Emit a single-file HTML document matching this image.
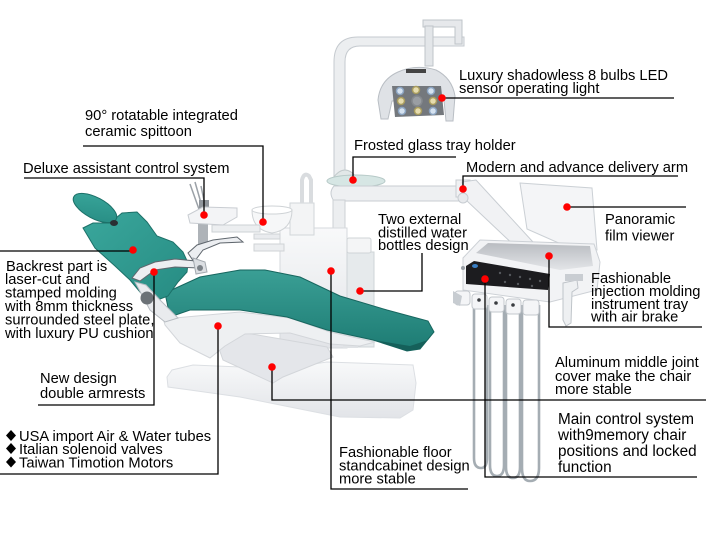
<!DOCTYPE html>
<html><head><meta charset="utf-8"><style>
html,body{margin:0;padding:0;background:#fff;}
svg{display:block;}
text{font-family:"Liberation Sans",Arial,sans-serif;font-size:14.7px;fill:#000;}
</style></head><body>
<svg width="706" height="550" viewBox="0 0 706 550" xmlns="http://www.w3.org/2000/svg">
<defs>
<linearGradient id="teal" x1="0" y1="0" x2="0" y2="1"><stop offset="0" stop-color="#3a9f95"/><stop offset="1" stop-color="#1d7b73"/></linearGradient>
<linearGradient id="teal2" x1="0" y1="0" x2="1" y2="1"><stop offset="0" stop-color="#3aa79c"/><stop offset="1" stop-color="#268b82"/></linearGradient>
<linearGradient id="wht" x1="0" y1="0" x2="0" y2="1"><stop offset="0" stop-color="#f8f9fa"/><stop offset="1" stop-color="#e2e4e8"/></linearGradient>
<linearGradient id="tray" x1="0" y1="0" x2="0" y2="1"><stop offset="0" stop-color="#b9bcc1"/><stop offset="1" stop-color="#e3e5e8"/></linearGradient>
</defs>

<!-- light pole -->
<path d="M334,178 V62 Q334,37 358,37 H464 V46 H360 Q345,46 345,62 V178 Z" fill="#eceef0" stroke="#c5cacf"/>
<path d="M423,20 H462 V44 H455 V27 H423 Z" fill="#e6e8eb" stroke="#bfc4c9"/>
<rect x="425" y="26" width="8" height="40" fill="#e3e6e9" stroke="#bfc4c9"/>
<!-- lamp -->
<path d="M378,100 Q380,80 398,72 Q416,64 436,70 Q452,78 455,96 L453,121 L446,121 L444,100 L392,101 L388,119 L381,119 Z" fill="#dfe2e6" stroke="#b9bec4"/>
<rect x="406" y="69" width="20" height="4" fill="#444"/>
<path d="M392,86 L441,86 L444,115 L395,117 Z" fill="#74787d"/>
<g stroke-width="1.5">
<circle cx="400" cy="91" r="3.5" fill="#d5e2f0" stroke="#8aa3c0"/>
<circle cx="416" cy="90" r="3.5" fill="#e6dcae" stroke="#a89c5e"/>
<circle cx="431" cy="91" r="3.5" fill="#d5e2f0" stroke="#8aa3c0"/>
<circle cx="401" cy="101" r="3.5" fill="#e6dcae" stroke="#a89c5e"/>
<circle cx="417" cy="101" r="5" fill="#9a9ea3" stroke="#85898e"/>
<circle cx="433" cy="101" r="3.5" fill="#e6dcae" stroke="#a89c5e"/>
<circle cx="402" cy="111" r="3.5" fill="#d5e2f0" stroke="#8aa3c0"/>
<circle cx="418" cy="111" r="3.5" fill="#e6dcae" stroke="#a89c5e"/>
<circle cx="433" cy="111" r="3.5" fill="#d5e2f0" stroke="#8aa3c0"/>
</g>
<!-- glass tray -->
<path d="M333,178 Q339,170 345,170 Q351,170 357,178 Z" fill="#e2e8e8" stroke="#c3cbcc"/>
<ellipse cx="356" cy="181" rx="29" ry="6" fill="#d6e6e4" stroke="#b6c9c7"/>

<!-- delivery arm -->
<path d="M334,186 H470 V201 H334 Q328,193 334,186 Z" fill="#eef0f2" stroke="#c8cdd2"/>
<rect x="456" y="180" width="14" height="17" fill="#f0f1f3" stroke="#c8cdd2"/>
<path d="M462,182 L476,180 L533,242 L519,250 L466,200 Z" fill="#f1f2f4" stroke="#c8cdd2"/>
<circle cx="463" cy="198" r="5" fill="#e8eaed" stroke="#c8cdd2"/>

<!-- cabinet -->
<rect x="333" y="200" width="12" height="30" fill="#eceef0" stroke="#ccd0d4"/>
<rect x="280" y="228" width="67" height="120" fill="url(#wht)" stroke="#d6d9dd"/>
<rect x="347" y="252" width="27" height="95" fill="#e6eaec" stroke="#cfd4d7"/>
<rect x="347" y="238" width="24" height="15" rx="2" fill="#f4f5f6" stroke="#cfd4d7"/>
<rect x="343" y="330" width="15" height="18" fill="#dfe2e5"/>

<!-- spittoon & cup -->
<path d="M290,203 H314 V235 H290 Z" fill="#f3f4f5" stroke="#d2d6d9"/>
<path d="M302,203 V180 Q304,172 309,176 L311,180 V203" fill="none" stroke="#d9dcdf" stroke-width="4"/>
<path d="M252,210 H292 Q292,230 272,233 Q252,230 252,210 Z" fill="#f6f7f8" stroke="#cfd3d6"/>
<ellipse cx="272" cy="210" rx="20" ry="4" fill="#fff" stroke="#cfd3d6"/>
<rect x="254" y="234" width="26" height="5" fill="#e9ebee" stroke="#cfd3d6"/>
<rect x="254" y="244" width="30" height="7" fill="#eceef0" stroke="#cfd3d6"/>
<!-- assistant -->
<rect x="212" y="225" width="48" height="7" fill="#eceef0" stroke="#cdd1d5"/>
<rect x="198" y="222" width="10" height="22" fill="#aeb3b8"/>
<path d="M190,184 L200,212 M195,182 L203,210 M201,186 L206,210" stroke="#9ba1a7" stroke-width="1.5" fill="none"/>
<rect x="199" y="200" width="10" height="12" fill="#8f959b"/>
<path d="M188,215 L203,207 L237,208 L237,217 L223,225 L190,223 Z" fill="#f3f4f6" stroke="#c9cdd2"/>

<!-- base -->
<path d="M167,377 L172,370 L193,365 L240,367 L287,368 L327,362 L413,365 L416,383 L413,410 L400,418 L340,417 L290,407 L240,397 L190,390 L168,387 Z" fill="url(#wht)" stroke="#dcdfe3"/>
<path d="M217,343 L240,332 L327,347 L333,357 L283,377 L273,383 L223,360 Z" fill="#e4e6ea" stroke="#d3d6da"/>
<!-- shell -->
<path d="M158,300 L175,318 L240,312 L290,318 L330,332 L375,342 L360,346 L330,344 L290,333 L245,334 L225,346 L210,358 L180,343 L165,325 Z" fill="#eef0f2" stroke="#d3d6da"/>
<!-- seat -->
<path d="M165,293 L200,277 L240,270 L265,270 L300,277 L340,296 L387,310 L428,321 L434,332 L420,349 L407,351 L373,340 L327,330 L287,317 L240,310 L190,310 L170,317 Z" fill="url(#teal)" stroke="#17665f"/>
<path d="M373,340 L407,351 L420,349 L434,332 L428,340 L410,346 Z" fill="#15605a"/>
<!-- backrest -->
<path d="M83,228 L93,223 L110,223 L122,213 L137,212 L147,222 L157,236 L173,242 L183,252 L188,263 L187,272 L178,282 L168,296 L152,302 L140,292 L130,280 L115,266 L95,248 Z" fill="url(#teal2)" stroke="#1c7068"/>
<ellipse cx="95" cy="208" rx="24" ry="10.5" transform="rotate(28 95 208)" fill="url(#teal2)" stroke="#1c7068"/>
<ellipse cx="114" cy="223" rx="4" ry="3" fill="#2a2f33"/>
<!-- armrests -->
<path d="M132,278 L140,268 L155,262 L175,259 L196,261 L199,268 L175,267 L155,270 L140,281 Z" fill="#eceef1" stroke="#5f666d"/>
<path d="M188,253 L197,245 L213,240 L237,237 L243,242 L220,243 L203,250 L194,262 Z" fill="#eceef1" stroke="#5f666d"/>
<path d="M193,258 L205,262 L207,272 L196,274 Z" fill="#dcdfe3" stroke="#a4aab0"/>
<circle cx="200" cy="268" r="3" fill="#7b8187"/>
<path d="M135,282 L150,310 L165,322 L178,318 L160,300 L146,285 Z" fill="#e9ebee" stroke="#b7bcc2"/>
<circle cx="147" cy="298" r="6.5" fill="#6c7277"/>

<!-- hoses -->
<g fill="none" stroke="#a5adb3" stroke-width="2.6">
<path d="M474,305 V458 Q474,468 481,468 Q487,468 487,458 V305"/>
<path d="M490,305 V465 Q490,476 497,476 Q504,476 504,465 V305"/>
<path d="M506,305 V467 Q506,478 513,478 Q520,478 520,467 V305"/>
<path d="M522,305 V468 Q522,481 530,481 Q539,481 539,468 V305"/>
</g>
<!-- tray -->
<path d="M520,183 L592,188 L597,250 L570,248 L527,229 Z" fill="#f4f5f7" stroke="#cbd0d5"/>
<path d="M463,258 L480,240 L594,244 L600,262 L597,290 L550,302 L463,290 Z" fill="#f2f3f5" stroke="#cdd1d6"/>
<path d="M476,253 L488,243 L590,246 L593,266 L560,270 Z" fill="url(#tray)"/>
<path d="M466,266 L474,261 L550,274 L548,290 L466,284 Z" fill="#1c1c1f"/>
<ellipse cx="475" cy="266" rx="3" ry="2" fill="#3a7fc4"/>
<g fill="#55585c"><circle cx="500" cy="273" r="1.2"/><circle cx="510" cy="275" r="1.2"/><circle cx="520" cy="277" r="1.2"/><circle cx="530" cy="279" r="1.2"/><circle cx="540" cy="281" r="1.2"/><circle cx="505" cy="282" r="1.2"/><circle cx="518" cy="284" r="1.2"/><circle cx="532" cy="286" r="1.2"/></g>
<circle cx="463" cy="268" r="2" fill="#9aa0a6"/>
<g fill="#f4f5f7" stroke="#c3c8cd">
<rect x="455" y="291" width="15" height="14" rx="3"/>
<rect x="472" y="294" width="15" height="15" rx="3"/>
<rect x="489" y="297" width="15" height="15" rx="3"/>
<rect x="506" y="299" width="15" height="15" rx="3"/>
<rect x="523" y="300" width="16" height="15" rx="3"/>
</g>
<g fill="#3a3d41"><circle cx="479" cy="300" r="1.8"/><circle cx="496" cy="303" r="1.8"/><circle cx="513" cy="305" r="1.8"/></g>
<path d="M563,283 L577,280 L578,288 L572,292 L571,323 L566,326 L563,320 Z" fill="#eef0f2" stroke="#bfc4c9"/>
<rect x="565" y="274" width="18" height="7" fill="#c9cdd2"/>
<path d="M453,291 L462,296 L460,306 L453,303 Z" fill="#c7ccd1"/>

<!-- leader lines -->
<g fill="none" stroke="#000" stroke-width="1.3">
<path d="M83,146 H263 V222"/>
<path d="M24,178 H204 V215"/>
<path d="M0,251 H133"/>
<path d="M38,405 H154 V272"/>
<path d="M0,474 H218 V326"/>
<path d="M272,367 V400 H706"/>
<path d="M331,271 V489 H468"/>
<path d="M360,291 H422 V253"/>
<path d="M456,157 H353 V180"/>
<path d="M442,98 H674"/>
<path d="M678,176 H463 V189"/>
<path d="M567,207 H686"/>
<path d="M549,256 V327 H702"/>
<path d="M485,279 V477 H697"/>
</g>
<!-- dots -->
<g fill="#ff0000">
<circle cx="263" cy="222" r="3.8"/><circle cx="204" cy="215" r="3.8"/><circle cx="133" cy="250" r="3.8"/>
<circle cx="154" cy="272" r="3.8"/><circle cx="218" cy="326" r="3.8"/><circle cx="272" cy="367" r="3.8"/>
<circle cx="331" cy="271" r="3.8"/><circle cx="360" cy="291" r="3.8"/><circle cx="353" cy="180" r="3.8"/>
<circle cx="442" cy="98" r="3.8"/><circle cx="463" cy="189" r="3.8"/><circle cx="567" cy="207" r="3.8"/>
<circle cx="549" cy="256" r="3.8"/><circle cx="485" cy="279" r="3.8"/>
</g>

<!-- labels -->
<text x="85" y="120">90° rotatable integrated</text>
<text x="85" y="136">ceramic spittoon</text>
<text x="23" y="173">Deluxe assistant control system</text>
<text x="6" y="271">Backrest part is</text>
<text x="5" y="284">laser-cut and</text>
<text x="5" y="297.5">stamped molding</text>
<text x="5" y="311">with 8mm thickness</text>
<text x="5" y="324.5">surrounded steel plate,</text>
<text x="5" y="338">with luxury PU cushion</text>
<text x="40" y="383">New design</text>
<text x="40" y="398">double armrests</text>
<g fill="#000"><path d="M11,430 L16,435.5 L11,441 L6,435.5 Z"/><path d="M11,443 L16,448.5 L11,454 L6,448.5 Z"/><path d="M11,456.5 L16,462 L11,467.5 L6,462 Z"/></g>
<text x="19" y="441">USA import Air &amp; Water tubes</text>
<text x="19" y="454">Italian solenoid valves</text>
<text x="19" y="467.5">Taiwan Timotion Motors</text>
<text x="339" y="457">Fashionable floor</text>
<text x="339" y="470.5">standcabinet design</text>
<text x="339" y="483.5">more stable</text>
<text x="378" y="224">Two external</text>
<text x="378" y="237.5">distilled water</text>
<text x="378" y="250">bottles design</text>
<text x="354" y="150">Frosted glass tray holder</text>
<text x="459" y="80">Luxury shadowless 8 bulbs LED</text>
<text x="459" y="93">sensor operating light</text>
<text x="466" y="172">Modern and advance delivery arm</text>
<text x="605" y="224">Panoramic</text>
<text x="605" y="240.5">film viewer</text>
<text x="591" y="283">Fashionable</text>
<text x="591" y="296">injection molding</text>
<text x="591" y="309">instrument tray</text>
<text x="591" y="321.5">with air brake</text>
<text x="555" y="367">Aluminum middle joint</text>
<text x="555" y="381">cover make the chair</text>
<text x="555" y="394">more stable</text>
<text x="558" y="424" style="font-size:15.3px">Main control system</text>
<text x="558" y="440" style="font-size:15.3px">with9memory chair</text>
<text x="558" y="456" style="font-size:15.3px">positions and locked</text>
<text x="558" y="472" style="font-size:15.3px">function</text>
</svg>
</body></html>
